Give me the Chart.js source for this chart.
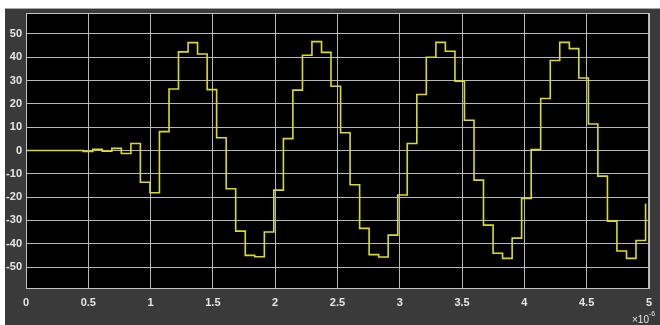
<!DOCTYPE html>
<html>
<head>
<meta charset="utf-8">
<script src="https://cdn.jsdelivr.net/npm/chart.js@4/dist/chart.umd.min.js"></script>
<style>
  html, body { margin: 0; padding: 0; background: #fff; }
  #wrap { width: 660px; height: 325px; position: relative; }
</style>
</head>
<body>
<div id="wrap"><canvas id="scope" width="660" height="325"></canvas></div>
<script>
// time in microseconds (axis is x10^-6), one held sample every ~0.0765 us
const sampleTimes = [
  0, 0.077, 0.153, 0.230, 0.306, 0.383, 0.459, 0.536, 0.612, 0.689, 0.765, 0.842, 0.918,
  0.995, 1.071, 1.148, 1.224, 1.301, 1.377, 1.454, 1.530, 1.607, 1.683, 1.760, 1.836, 1.913,
  1.989, 2.066, 2.142, 2.219, 2.295, 2.372, 2.448, 2.525, 2.601, 2.678, 2.754, 2.831, 2.907,
  2.984, 3.060, 3.137, 3.213, 3.290, 3.366, 3.443, 3.519, 3.596, 3.672, 3.749, 3.825, 3.902,
  3.978, 4.055, 4.131, 4.208, 4.284, 4.361, 4.437, 4.514, 4.590, 4.667, 4.743, 4.820, 4.896,
  4.973
];
const signal = [
  0, 0, 0, 0, 0, 0, -0.4, 0.5, -0.3, 0.9, -1.3, 3.0, -13.6,
  -18.1, 8.1, 26.4, 42.3, 46.3, 41.4, 26.1, 5.5, -16.4, -34.6, -45.0, -45.6, -35.0,
  -17.0, 5.1, 25.9, 40.9, 46.7, 42.1, 27.6, 7.6, -14.7, -33.4, -44.7, -45.7, -36.3,
  -19.1, 3.0, 24.0, 40.0, 46.4, 42.6, 29.7, 13.0, -12.7, -32.0, -44.1, -46.3, -37.6,
  -20.6, 0.4, 22.3, 38.6, 46.4, 43.7, 31.1, 11.4, -11.0, -30.3, -43.1, -46.3, -38.6,
  -22.7
];
const xTicks = [0, 0.5, 1, 1.5, 2, 2.5, 3, 3.5, 4, 4.5, 5];
const yTicks = [-50, -40, -30, -20, -10, 0, 10, 20, 30, 40, 50];
const xExponent = '-6';

const scopeFrame = {
  id: 'scopeFrame',
  beforeDraw(chart) {
    const { ctx, chartArea: a } = chart;
    ctx.save();
    ctx.fillStyle = '#ffffff';
    ctx.fillRect(0, 0, chart.width, chart.height);
    ctx.fillStyle = '#3a3a3a';
    ctx.fillRect(5, 9, chart.width - 5, chart.height - 9);
    ctx.strokeStyle = '#a8a8a8';
    ctx.lineWidth = 1;
    ctx.beginPath();
    ctx.moveTo(5, 8.5);
    ctx.lineTo(chart.width, 8.5);
    ctx.stroke();
    ctx.fillStyle = '#000000';
    ctx.fillRect(a.left, a.top, a.right - a.left, a.bottom - a.top);
    ctx.restore();
  },
  afterDraw(chart) {
    const { ctx, chartArea: a } = chart;
    ctx.save();
    ctx.strokeStyle = '#c4c4c4';
    ctx.lineWidth = 1;
    ctx.strokeRect(Math.round(a.left) + 0.5, Math.round(a.top) + 0.5,
      Math.round(a.right - a.left), Math.round(a.bottom - a.top));
    ctx.fillStyle = '#e6e6e6';
    ctx.textBaseline = 'alphabetic';
    ctx.textAlign = 'left';
    ctx.font = '10px "Liberation Sans", Arial, sans-serif';
    ctx.fillText('\u00d710', 632, 323);
    ctx.font = '7px "Liberation Sans", Arial, sans-serif';
    ctx.fillText(xExponent, 649, 316);
    ctx.restore();
  }
};

const tickFont = { family: '"Liberation Sans", Arial, sans-serif', size: 11, weight: 'bold' };

new Chart(document.getElementById('scope'), {
  type: 'line',
  data: {
    datasets: [{
      data: sampleTimes.map((t, i) => ({ x: t, y: signal[i] })),
      borderColor: '#dcdc1e',
      borderWidth: 1.6,
      pointRadius: 0,
      stepped: 'before',
      fill: false
    }]
  },
  options: {
    responsive: false,
    animation: false,
    layout: { padding: { left: 5, top: 13, right: 4, bottom: 0 } },
    plugins: { legend: { display: false }, tooltip: { enabled: false } },
    scales: {
      x: {
        type: 'linear',
        min: 0,
        max: 5,
        afterBuildTicks: axis => { axis.ticks = xTicks.map(v => ({ value: v })); },
        afterFit: axis => { axis.height = 37; },
        grid: { color: '#b8b8b8', lineWidth: 1, drawTicks: false },
        border: { display: false },
        ticks: { color: '#e6e6e6', font: tickFont, padding: 8, maxRotation: 0, autoSkip: false,
          callback: v => String(v) }
      },
      y: {
        min: -59,
        max: 59,
        afterBuildTicks: axis => { axis.ticks = yTicks.map(v => ({ value: v })); },
        afterFit: axis => { axis.width = 21; },
        grid: { color: '#b8b8b8', lineWidth: 1, drawTicks: false },
        border: { display: false },
        ticks: { color: '#e6e6e6', font: tickFont, padding: 4, autoSkip: false,
          callback: v => String(v) }
      }
    }
  },
  plugins: [scopeFrame]
});
</script>
</body>
</html>
